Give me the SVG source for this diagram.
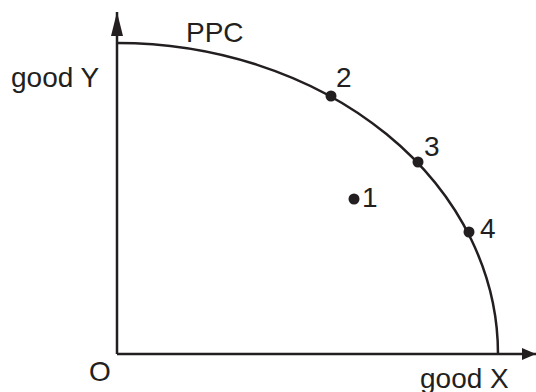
<svg xmlns="http://www.w3.org/2000/svg" width="536" height="392" viewBox="0 0 536 392">
<defs>
<style>
.ln{fill:none;stroke:#231f20;stroke-width:2.5}
.t{font-family:"Liberation Sans",Arial,sans-serif;font-size:28px;fill:#231f20}
.dot{fill:#231f20}
</style>
<marker id="ah" markerWidth="14" markerHeight="12" refX="14" refY="6" orient="auto" markerUnits="userSpaceOnUse">
<path d="M0,0 L14,6 L0,12 z" fill="#231f20"/>
</marker>
<marker id="av" markerWidth="24" markerHeight="12" refX="24" refY="6" orient="auto" markerUnits="userSpaceOnUse">
<path d="M0,0 L24,6 L0,12 z" fill="#231f20"/>
</marker>
</defs>
<g id="connectors">
<line class="ln" x1="117" y1="354" x2="117" y2="12" marker-end="url(#av)"/>
<line class="ln" x1="117" y1="354" x2="536" y2="354" marker-end="url(#ah)"/>
<path id="ppc-curve" class="ln" d="M117,43 A381,311 0 0 1 498,354"/>
</g>
<g id="label-ppc"><text class="t" x="186" y="42">PPC</text></g>
<g id="label-goodY"><text class="t" x="11" y="87">good Y</text></g>
<g id="label-goodX"><text class="t" x="420" y="388">good X</text></g>
<g id="label-O"><text class="t" x="89" y="381">O</text></g>
<g id="point-1"><circle class="dot" cx="354" cy="199" r="5.5"/><text class="t" x="362" y="207">1</text></g>
<g id="point-2"><circle class="dot" cx="331" cy="96" r="5.5"/><text class="t" x="336" y="87">2</text></g>
<g id="point-3"><circle class="dot" cx="418" cy="162" r="5.5"/><text class="t" x="424" y="156">3</text></g>
<g id="point-4"><circle class="dot" cx="469" cy="232" r="5.5"/><text class="t" x="480" y="238">4</text></g>
</svg>
